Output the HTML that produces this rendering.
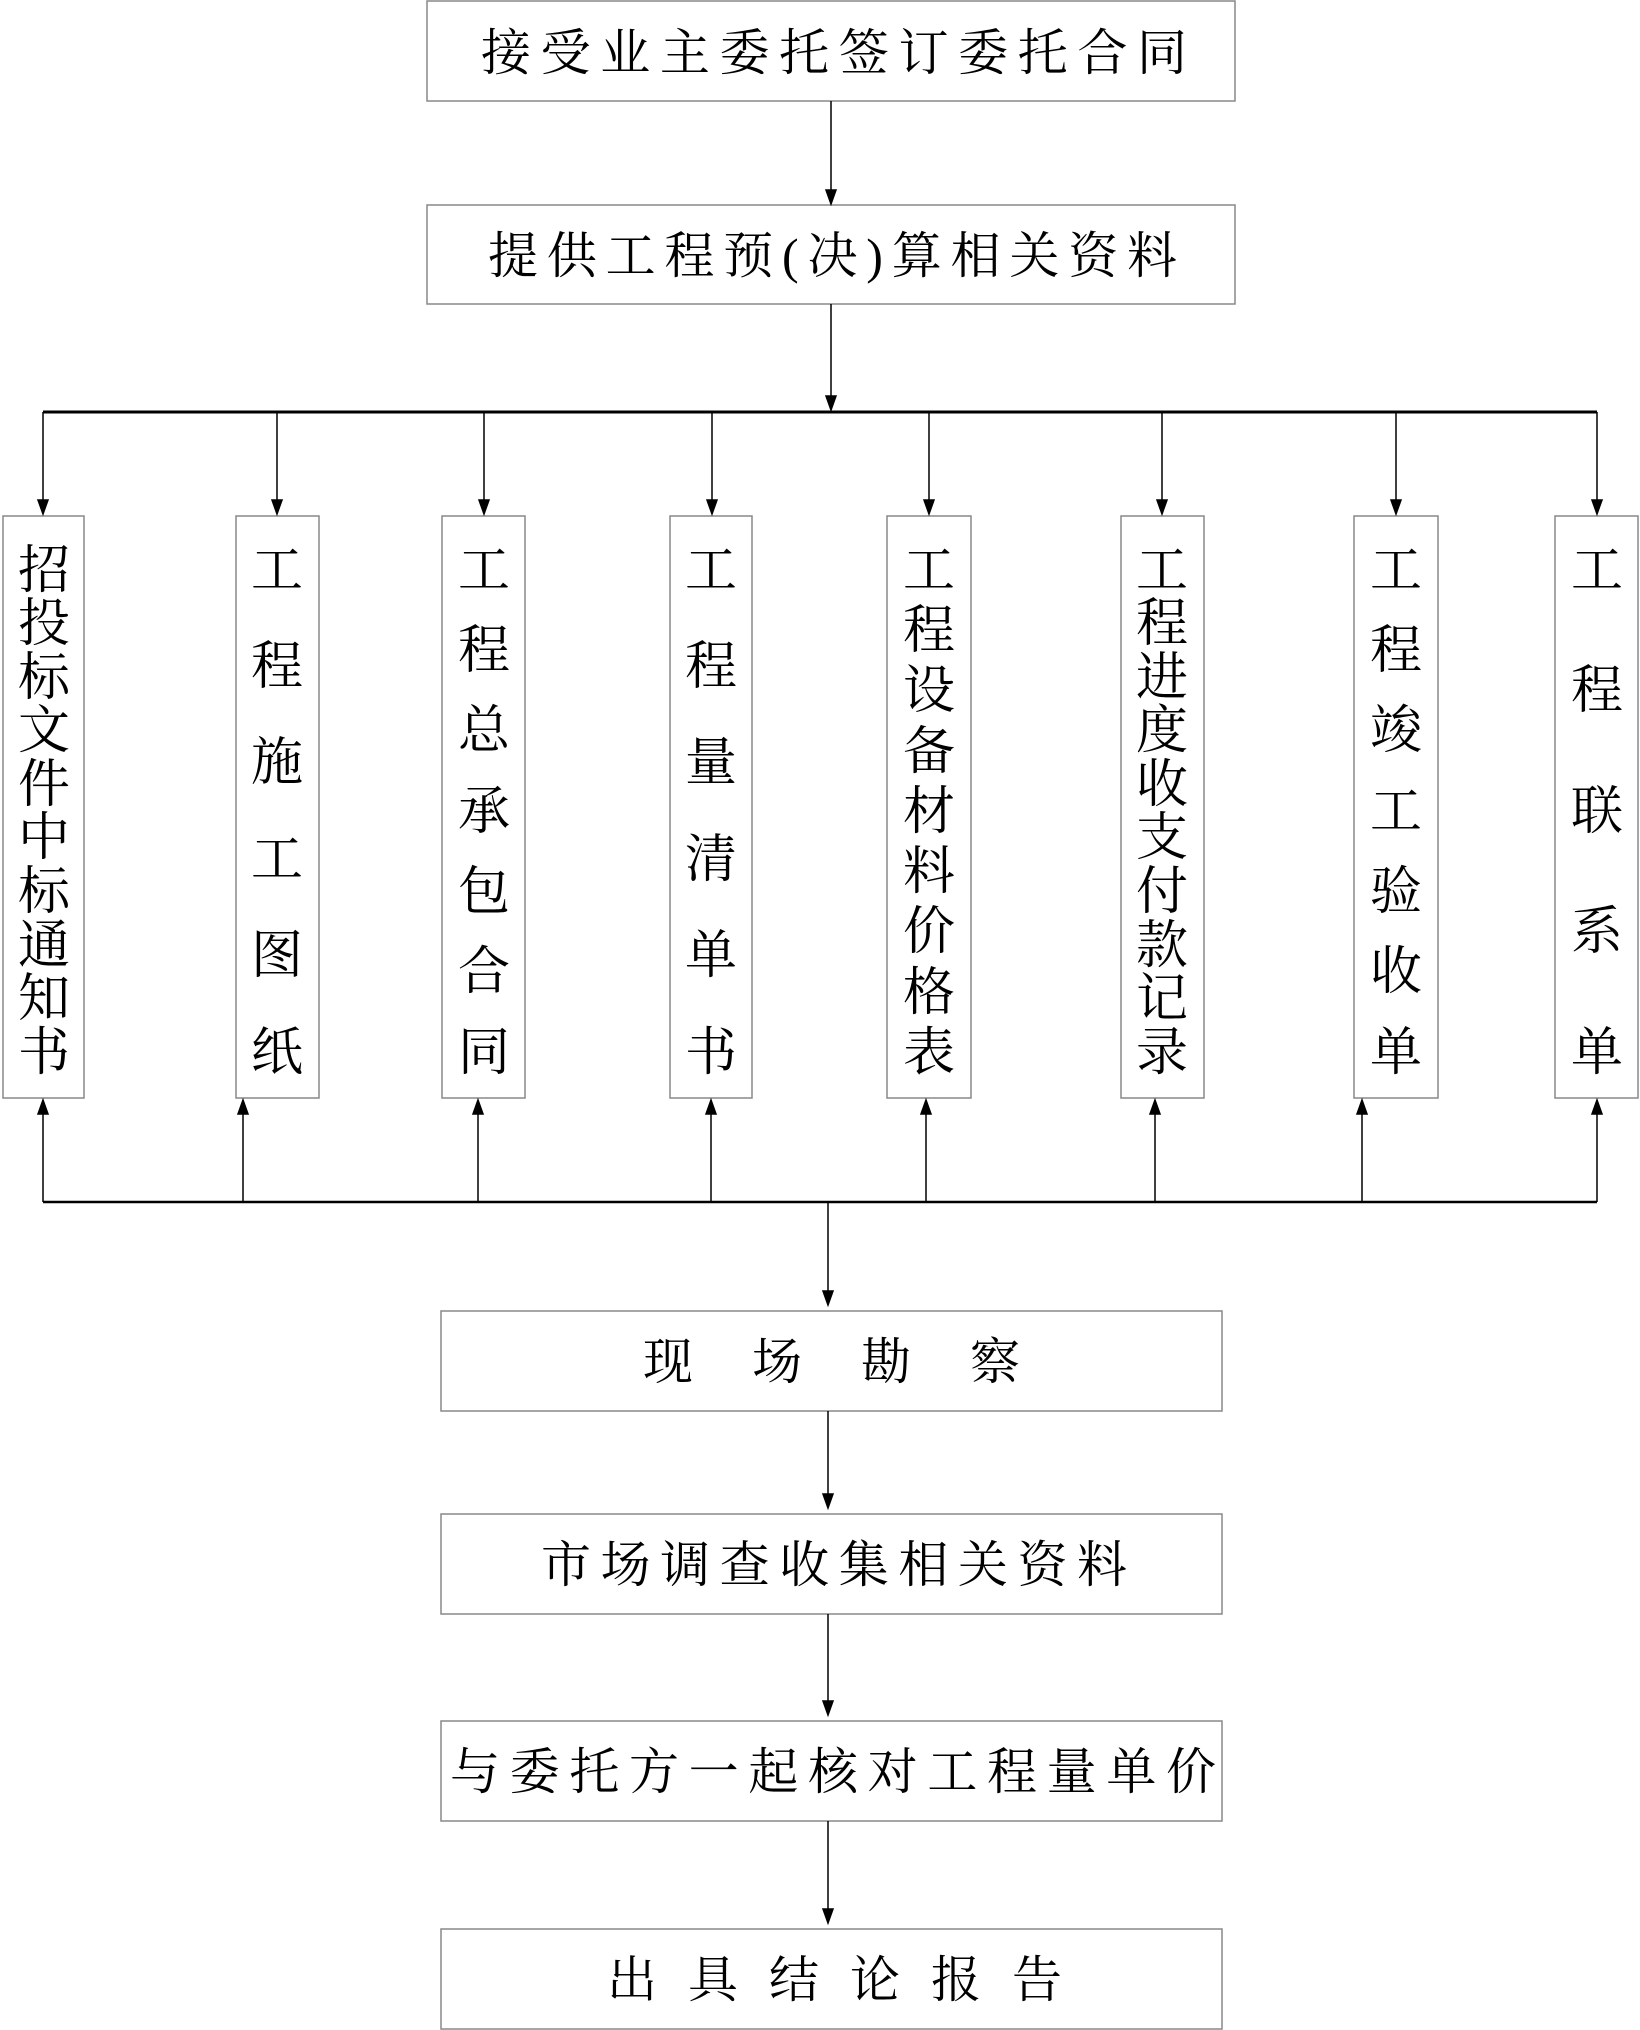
<!DOCTYPE html>
<html><head><meta charset="utf-8"><style>
html,body{margin:0;padding:0;background:#fff;}
svg{display:block;}
text{font-family:"Liberation Serif","Noto Serif CJK SC",serif;fill:#000;}
</style></head><body>
<svg width="1640" height="2030" viewBox="0 0 1640 2030" xmlns="http://www.w3.org/2000/svg">
<g fill="none" stroke="#888" stroke-width="1.5">
<rect x="427" y="1" width="808" height="100"/>
<rect x="427" y="205" width="808" height="99"/>
<rect x="441" y="1311" width="781" height="100"/>
<rect x="441" y="1514" width="781" height="100"/>
<rect x="441" y="1721" width="781" height="100"/>
<rect x="441" y="1929" width="781" height="100"/>
<rect x="3" y="516" width="81" height="582"/>
<rect x="236" y="516" width="83" height="582"/>
<rect x="442" y="516" width="83" height="582"/>
<rect x="670" y="516" width="82" height="582"/>
<rect x="887" y="516" width="84" height="582"/>
<rect x="1121" y="516" width="83" height="582"/>
<rect x="1354" y="516" width="84" height="582"/>
<rect x="1555" y="516" width="83" height="582"/>
</g>
<g stroke="#000" stroke-width="1.5" fill="none">
<line x1="831" y1="101" x2="831" y2="190"/>
<path d="M826,190 L836,190 L831,204 Z" fill="#000"/>
<line x1="831" y1="304" x2="831" y2="396"/>
<path d="M826,396 L836,396 L831,410 Z" fill="#000"/>
<line x1="43" y1="412" x2="1597" y2="412" stroke-width="3"/>
<line x1="43" y1="1202" x2="1597" y2="1202" stroke-width="2.5"/>
<line x1="828" y1="1202" x2="828" y2="1291"/>
<path d="M823,1291 L833,1291 L828,1305 Z" fill="#000"/>
<line x1="828" y1="1411" x2="828" y2="1494"/>
<path d="M823,1494 L833,1494 L828,1508 Z" fill="#000"/>
<line x1="828" y1="1614" x2="828" y2="1701"/>
<path d="M823,1701 L833,1701 L828,1715 Z" fill="#000"/>
<line x1="828" y1="1821" x2="828" y2="1909"/>
<path d="M823,1909 L833,1909 L828,1923 Z" fill="#000"/>
</g>
<g stroke="#000" stroke-width="1.5">
<line x1="43" y1="412" x2="43" y2="500"/><path d="M38,500 L48,500 L43,514 Z"/>
<line x1="277" y1="412" x2="277" y2="500"/><path d="M272,500 L282,500 L277,514 Z"/>
<line x1="484" y1="412" x2="484" y2="500"/><path d="M479,500 L489,500 L484,514 Z"/>
<line x1="712" y1="412" x2="712" y2="500"/><path d="M707,500 L717,500 L712,514 Z"/>
<line x1="929" y1="412" x2="929" y2="500"/><path d="M924,500 L934,500 L929,514 Z"/>
<line x1="1162" y1="412" x2="1162" y2="500"/><path d="M1157,500 L1167,500 L1162,514 Z"/>
<line x1="1396" y1="412" x2="1396" y2="500"/><path d="M1391,500 L1401,500 L1396,514 Z"/>
<line x1="1597" y1="412" x2="1597" y2="500"/><path d="M1592,500 L1602,500 L1597,514 Z"/>
<line x1="43" y1="1202" x2="43" y2="1114"/><path d="M38,1114 L48,1114 L43,1100 Z"/>
<line x1="243" y1="1202" x2="243" y2="1114"/><path d="M238,1114 L248,1114 L243,1100 Z"/>
<line x1="478" y1="1202" x2="478" y2="1114"/><path d="M473,1114 L483,1114 L478,1100 Z"/>
<line x1="711" y1="1202" x2="711" y2="1114"/><path d="M706,1114 L716,1114 L711,1100 Z"/>
<line x1="926" y1="1202" x2="926" y2="1114"/><path d="M921,1114 L931,1114 L926,1100 Z"/>
<line x1="1155" y1="1202" x2="1155" y2="1114"/><path d="M1150,1114 L1160,1114 L1155,1100 Z"/>
<line x1="1362" y1="1202" x2="1362" y2="1114"/><path d="M1357,1114 L1367,1114 L1362,1100 Z"/>
<line x1="1597" y1="1202" x2="1597" y2="1114"/><path d="M1592,1114 L1602,1114 L1597,1100 Z"/>
</g>
<g font-size="50">
<text x="481" y="70" textLength="706" lengthAdjust="spacing">接受业主委托签订委托合同</text>
<text x="488" y="273" textLength="689" lengthAdjust="spacing">提供工程预(决)算相关资料</text>
<text x="643" y="1379" textLength="377" lengthAdjust="spacing">现场勘察</text>
<text x="541" y="1582" textLength="586" lengthAdjust="spacing">市场调查收集相关资料</text>
<text x="450" y="1789" textLength="766" lengthAdjust="spacing">与委托方一起核对工程量单价</text>
<text x="607" y="1997" textLength="455" lengthAdjust="spacing">出具结论报告</text>
</g>
<g font-size="52" text-anchor="middle">
<text x="44" y="588">招</text><text x="44" y="641">投</text><text x="44" y="695">标</text><text x="44" y="748">文</text><text x="44" y="802">件</text><text x="44" y="855">中</text><text x="44" y="909">标</text><text x="44" y="963">通</text><text x="44" y="1016">知</text><text x="44" y="1070">书</text>

<text x="277" y="588">工</text><text x="277" y="684">程</text><text x="277" y="780">施</text><text x="277" y="877">工</text><text x="277" y="973">图</text><text x="277" y="1070">纸</text>

<text x="484" y="588">工</text><text x="484" y="668">程</text><text x="484" y="748">总</text><text x="484" y="829">承</text><text x="484" y="909">包</text><text x="484" y="989">合</text><text x="484" y="1070">同</text>

<text x="711" y="588">工</text><text x="711" y="684">程</text><text x="711" y="780">量</text><text x="711" y="877">清</text><text x="711" y="973">单</text><text x="711" y="1070">书</text>

<text x="929" y="588">工</text><text x="929" y="648">程</text><text x="929" y="708">设</text><text x="929" y="769">备</text><text x="929" y="829">材</text><text x="929" y="889">料</text><text x="929" y="949">价</text><text x="929" y="1010">格</text><text x="929" y="1070">表</text>

<text x="1162" y="588">工</text><text x="1162" y="641">程</text><text x="1162" y="695">进</text><text x="1162" y="748">度</text><text x="1162" y="802">收</text><text x="1162" y="855">支</text><text x="1162" y="909">付</text><text x="1162" y="963">款</text><text x="1162" y="1016">记</text><text x="1162" y="1070">录</text>

<text x="1396" y="588">工</text><text x="1396" y="668">程</text><text x="1396" y="748">竣</text><text x="1396" y="829">工</text><text x="1396" y="909">验</text><text x="1396" y="989">收</text><text x="1396" y="1070">单</text>

<text x="1597" y="588">工</text><text x="1597" y="708">程</text><text x="1597" y="829">联</text><text x="1597" y="949">系</text><text x="1597" y="1070">单</text>
</g>
</svg>
</body></html>
